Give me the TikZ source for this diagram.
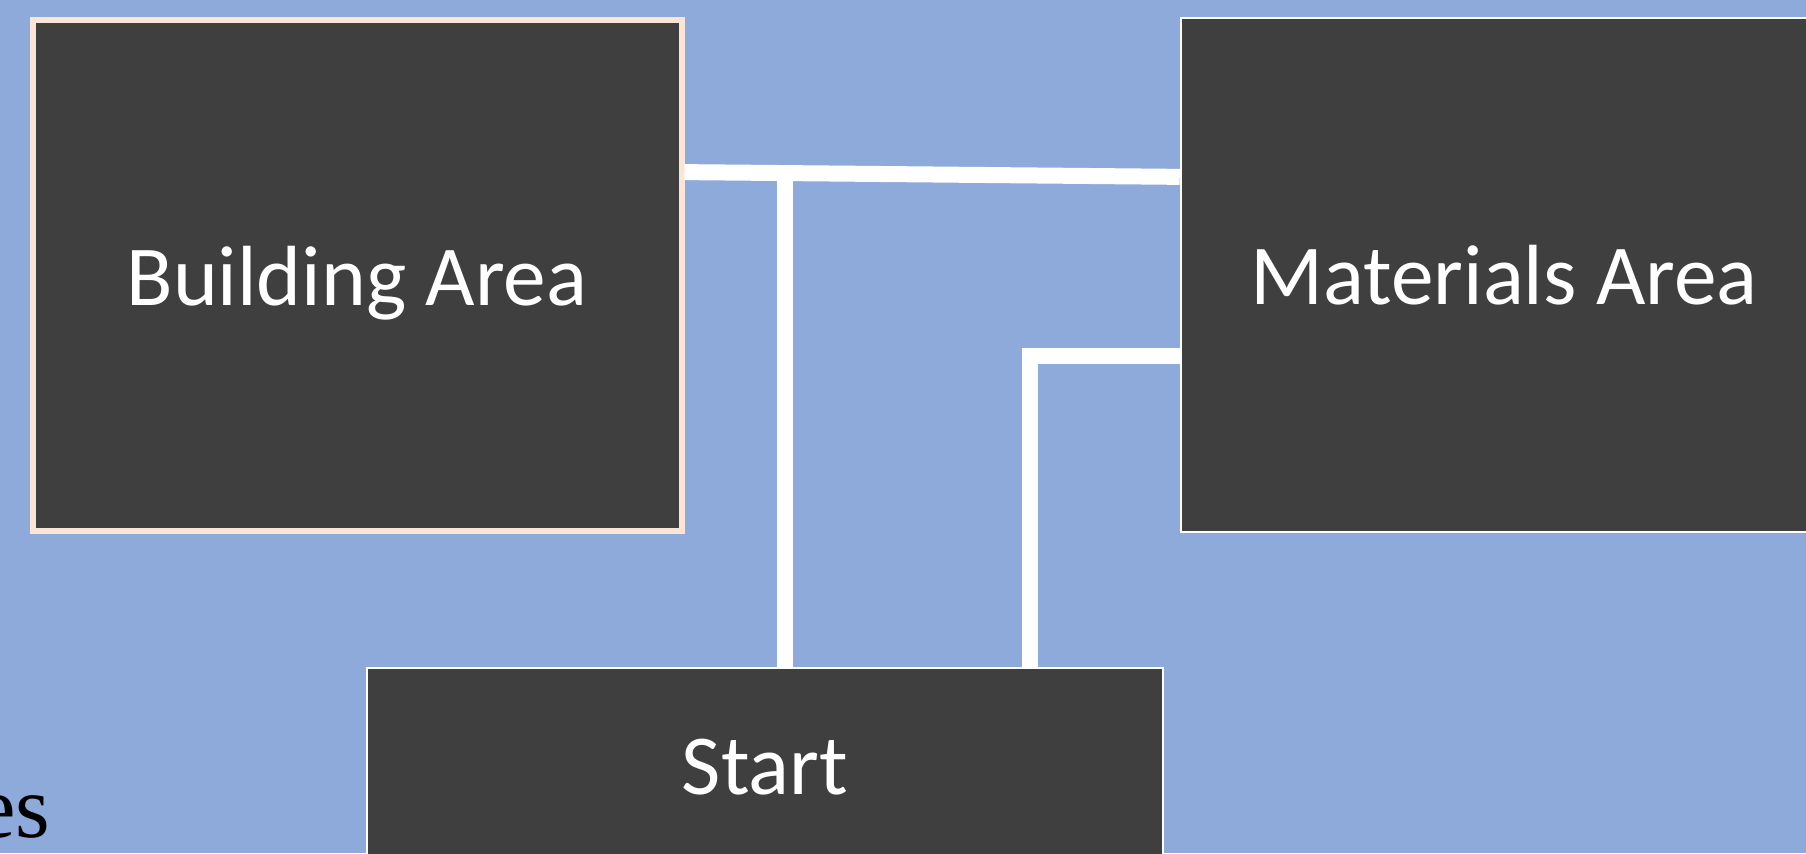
\documentclass[tikz,border=0pt]{standalone}
\usepackage{fontspec}
\usepackage{tikz}
\usetikzlibrary{calc}
\newfontfamily\boxfont{Carlito}
\newfontfamily\ttlfont{Liberation Serif}
\definecolor{sky}{HTML}{8EAADB}
\definecolor{slab}{HTML}{3F3F3F}
\definecolor{peach}{HTML}{FBE5D6}

\begin{document}
\begin{tikzpicture}[
  x=1cm,y=1cm,
  area/.style={draw=white,line width=0.25mm,fill=slab,text=white,inner sep=0pt,
            text depth=0pt,font=\boxfont\fontsize{24.3}{29}\selectfont},
  areab/.style={area,draw=peach,line width=0.6mm},
  lnk/.style={draw=white,line width=1.6mm}]
\useasboundingbox (0,0) rectangle (18.06,8.53);
\clip (0,0) rectangle (18.06,8.53);
\fill[sky] (0,0) rectangle (18.06,8.53);
\node[anchor=base east,inner sep=0pt,font=\ttlfont\fontsize{25.3}{30}\selectfont] (ttl) at (0.51,0.16) {es};
\node[areab,minimum width=6.49cm,minimum height=5.11cm] (bld) at (3.57,5.775) {Building Area};
\node[area,minimum width=6.46cm,minimum height=5.14cm] (mat) at (15.04,5.78) {Materials Area};
\node[area,minimum width=7.96cm,minimum height=1.98cm] (st) at (7.65,0.86) {Start};
% links
\coordinate (l1) at ($(bld.north east)!0.3!(bld.south east)$);
\coordinate (r1) at ($(mat.north west)!0.31!(mat.south west)$);
\coordinate (tee) at ($(l1)!0.203!(r1)$);
\coordinate (r2) at ($(mat.north west)!0.656!(mat.south west)$);
\coordinate (s2) at ($(st.north west)!0.832!(st.north east)$);
\draw[lnk] (l1)--(r1);
\draw[lnk] (tee)--(tee |- st.north);
\draw[lnk] (s2)|-(r2);
\end{tikzpicture}
\end{document}
